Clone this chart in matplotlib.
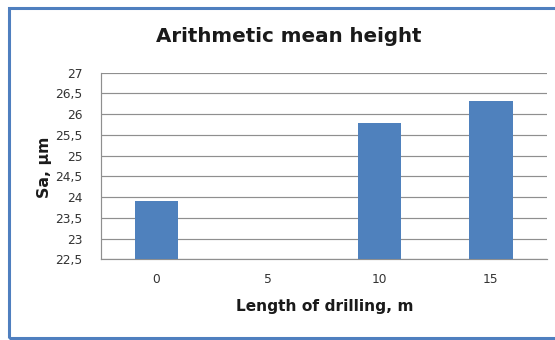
import numpy as np
import matplotlib.pyplot as plt
from matplotlib.patches import Rectangle
from matplotlib.ticker import FuncFormatter, MultipleLocator

# Sa roughness against drilling length (no measurement at 5 m)
lengths = ['0', '5', '10', '15']
sa = [23.9, np.nan, 25.78, 26.32]

fig = plt.figure(figsize=(5.55, 3.4), dpi=100)
fig.patch.set_facecolor('white')

# outer chart frame, open on the right side
fig.patches.append(Rectangle((8.5 / 555, 1 - 338 / 340), 560 / 555, 330 / 340,
                             transform=fig.transFigure, fill=False,
                             edgecolor='#4f7fbf', linewidth=2.2))

ax = fig.add_axes([0.1814, 0.2374, 0.8036, 0.5488])
x = np.arange(len(lengths))
ax.bar(x, sa, width=0.39, color='#4f81bd', zorder=3)

ax.set_xlim(-0.5, len(lengths) - 0.5)
ax.set_ylim(22.5, 27)
ax.yaxis.set_major_locator(MultipleLocator(0.5))
ax.yaxis.set_major_formatter(FuncFormatter(lambda v, p: f'{v:g}'.replace('.', ',')))
ax.set_xticks(x)
ax.set_xticklabels(lengths)

ax.grid(axis='y', color='#8f8f8f', linewidth=0.85, zorder=0)
for side in ['top', 'right']:
    ax.spines[side].set_visible(False)
for side in ['left', 'bottom']:
    ax.spines[side].set_color('#8f8f8f')
    ax.spines[side].set_linewidth(0.85)
ax.tick_params(length=0, labelsize=8.8, labelcolor='#333333')
ax.tick_params(axis='x', pad=10)
ax.tick_params(axis='y', pad=13)

font = 'DejaVu Sans'
fig.text(0.521, 1 - 37 / 340, 'Arithmetic mean height', ha='center', va='center',
         fontsize=14.3, fontweight='bold', family=font, color='#1a1a1a')
fig.text(0.585, 1 - 307 / 340, 'Length of drilling, m', ha='center', va='center',
         fontsize=11.1, fontweight='bold', family=font, color='#1a1a1a')
fig.text(44 / 555, 1 - 167 / 340, 'Sa, µm', ha='center', va='center', rotation=90,
         fontsize=11.3, fontweight='bold', family=font, color='#1a1a1a')

fig.savefig('out.png', dpi=100)
